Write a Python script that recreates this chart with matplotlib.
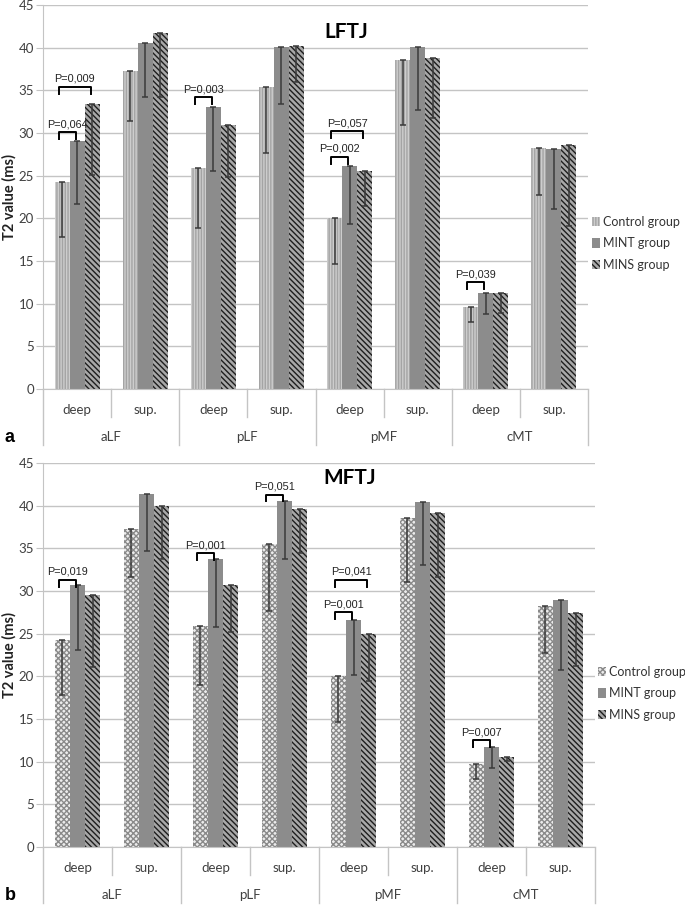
import numpy as np
import matplotlib.pyplot as plt
from matplotlib.patches import Patch

plt.rcParams['font.family'] = ['Lato', 'DejaVu Sans']
plt.rcParams['hatch.linewidth'] = 1.0

sub_labels = ['deep', 'sup.', 'deep', 'sup.', 'deep', 'sup.', 'deep', 'sup.']
group_labels = ['aLF', 'pLF', 'pMF', 'cMT']
series_names = ['Control group', 'MINT group', 'MINS group']

# LFTJ (panel a): mean and lower end of error bar
lftj_control = [24.2, 37.3, 25.9, 35.4, 20.0, 38.6, 9.6, 28.3]
lftj_control_lo = [17.8, 31.4, 18.9, 27.6, 14.7, 30.9, 7.9, 22.7]
lftj_mint = [29.1, 40.6, 33.0, 40.1, 26.1, 40.1, 11.3, 28.1]
lftj_mint_lo = [21.7, 34.2, 25.5, 33.4, 19.3, 32.7, 8.8, 21.1]
lftj_mins = [33.4, 41.7, 30.9, 40.2, 25.6, 38.8, 11.3, 28.6]
lftj_mins_lo = [25.1, 34.2, 24.8, 36.0, 21.5, 31.8, 8.9, 19.1]

# MFTJ (panel b)
mftj_control = [24.3, 37.3, 25.9, 35.5, 20.0, 38.5, 9.7, 28.3]
mftj_control_lo = [17.8, 31.6, 19.0, 27.6, 14.7, 31.0, 8.0, 22.7]
mftj_mint = [30.7, 41.4, 33.8, 40.6, 26.6, 40.4, 11.7, 28.9]
mftj_mint_lo = [23.1, 34.7, 25.8, 33.7, 20.1, 33.1, 9.2, 20.7]
mftj_mins = [29.5, 40.0, 30.7, 39.6, 25.0, 39.1, 10.6, 27.4]
mftj_mins_lo = [21.1, 33.8, 25.2, 34.5, 19.4, 31.6, 10.1, 21.2]

# significance brackets: (category index, series a, series b, bracket height, p text)
lftj_pvals = [(0, 0, 1, 30.1, 'P=0,064'), (0, 0, 2, 35.4, 'P=0,009'),
              (2, 0, 1, 34.2, 'P=0,003'), (4, 0, 1, 27.2, 'P=0,002'),
              (4, 0, 2, 30.2, 'P=0,057'), (6, 0, 1, 12.5, 'P=0,039')]
mftj_pvals = [(0, 0, 1, 31.3, 'P=0,019'), (2, 0, 1, 34.4, 'P=0,001'),
              (3, 0, 1, 41.3, 'P=0,051'), (4, 0, 1, 27.5, 'P=0,001'),
              (4, 0, 2, 31.3, 'P=0,041'), (6, 0, 1, 12.5, 'P=0,007')]

W, H = 685, 907
fig = plt.figure(figsize=(W / 100, H / 100), dpi=100)

grid_c = '#c4c4c4'
txt_c = '#404040'
bw = 0.22
offsets = [-bw, 0, bw]


def draw_panel(ax, means, lows, pvals, title, title_y, ctrl_style, letter):
    x = np.arange(len(sub_labels))
    styles = [ctrl_style,
              dict(facecolor='#8c8c8c', edgecolor='#8c8c8c', hatch=None),
              dict(facecolor='#a8a8a8', edgecolor='#1e1e1e', hatch='\\\\\\\\\\\\')]
    for i in range(3):
        st = styles[i]
        ax.bar(x + offsets[i], means[i], width=bw, facecolor=st['facecolor'],
               edgecolor=st['edgecolor'], hatch=st['hatch'], linewidth=0, zorder=2)
        m = np.array(means[i])
        lo = m - np.array(lows[i])
        ax.errorbar(x + offsets[i], m, yerr=[lo, np.zeros_like(lo)], fmt='none',
                    ecolor='#3a3a3a', elinewidth=1.1, capsize=2.2, capthick=1.1, zorder=3)

    for cat, a, b, yb, label in pvals:
        x1 = cat + offsets[a] - 0.05
        x2 = cat + offsets[b] - 0.02
        ax.plot([x1, x1, x2, x2], [yb - 0.8, yb, yb, yb - 0.8], color='black', lw=1.4,
                zorder=4, solid_joinstyle='round')
        ax.text((x1 + x2) / 2, yb + 0.35, label, ha='center', va='bottom', fontsize=7.8,
                family='Liberation Sans', color='#222222', zorder=5)

    ax.text(3.95, title_y, title, ha='center', va='center', fontsize=15, fontweight='bold',
            color='black')

    ax.set_xlim(-0.5, 7.5)
    ax.set_ylim(0, 45)
    ax.set_yticks(np.arange(0, 46, 5))
    ax.tick_params(axis='y', labelsize=9.5, colors=txt_c, length=5, color=grid_c, pad=1.5)
    ax.tick_params(axis='x', bottom=False, labelbottom=False)
    ax.grid(axis='y', color=grid_c, lw=1, zorder=0)
    ax.set_axisbelow(True)
    for s in ['top', 'right']:
        ax.spines[s].set_visible(False)
    ax.spines['left'].set_color(grid_c)
    ax.spines['bottom'].set_color(grid_c)
    ax.set_ylabel('T2 value (ms)', fontsize=10.5, fontweight='bold', color='#222222')
    ax.yaxis.set_label_coords(-26 / 545, 0.5)

    tr = ax.get_xaxis_transform()
    for xs in [0.5, 2.5, 4.5, 6.5]:
        ax.plot([xs, xs], [0, -0.072], transform=tr, color=grid_c, lw=1, clip_on=False)
    for xs in [-0.5, 1.5, 3.5, 5.5, 7.5]:
        ax.plot([xs, xs], [0, -0.146], transform=tr, color=grid_c, lw=1, clip_on=False)
    for i, lab in enumerate(sub_labels):
        ax.text(i, -0.055, lab, transform=tr, ha='center', va='center', fontsize=9.5,
                color=txt_c)
    for j, lab in enumerate(group_labels):
        ax.text(2 * j + 0.5, -0.125, lab, transform=tr, ha='center', va='center',
                fontsize=9.5, color=txt_c)
    ax.text(-0.07, -0.125, letter, transform=ax.transAxes, ha='left', va='center',
            fontsize=13, fontweight='bold', family='Liberation Sans')
    return styles


ax1 = fig.add_axes([43 / W, 1 - 389 / H, 545 / W, 384 / H])
st1 = draw_panel(ax1, [lftj_control, lftj_mint, lftj_mins],
                 [lftj_control_lo, lftj_mint_lo, lftj_mins_lo], lftj_pvals, 'LFTJ', 41.8,
                 dict(facecolor='#cdcdcd', edgecolor='#a4a4a4', hatch='||||||'), 'a')

ax2 = fig.add_axes([43 / W, 1 - 847 / H, 552 / W, 384 / H])
st2 = draw_panel(ax2, [mftj_control, mftj_mint, mftj_mins],
                 [mftj_control_lo, mftj_mint_lo, mftj_mins_lo], mftj_pvals, 'MFTJ', 43.2,
                 dict(facecolor='#ececec', edgecolor='#8a8a8a', hatch='xxxxxx'), 'b')

for ax, st, ytop, xl in [(ax1, st1, 216, 592), (ax2, st2, 666, 598)]:
    handles = [Patch(facecolor=s['facecolor'], edgecolor=s['edgecolor'], hatch=s['hatch'],
                     linewidth=0) for s in st]
    fig.legend(handles, series_names, loc='upper left',
               bbox_to_anchor=(xl / W, 1 - ytop / H), frameon=False, fontsize=9,
               handlelength=0.6, handleheight=0.8, handletextpad=0.3, labelspacing=0.75,
               borderaxespad=0, borderpad=0, labelcolor='#333333')

fig.savefig('out.png', dpi=100)
